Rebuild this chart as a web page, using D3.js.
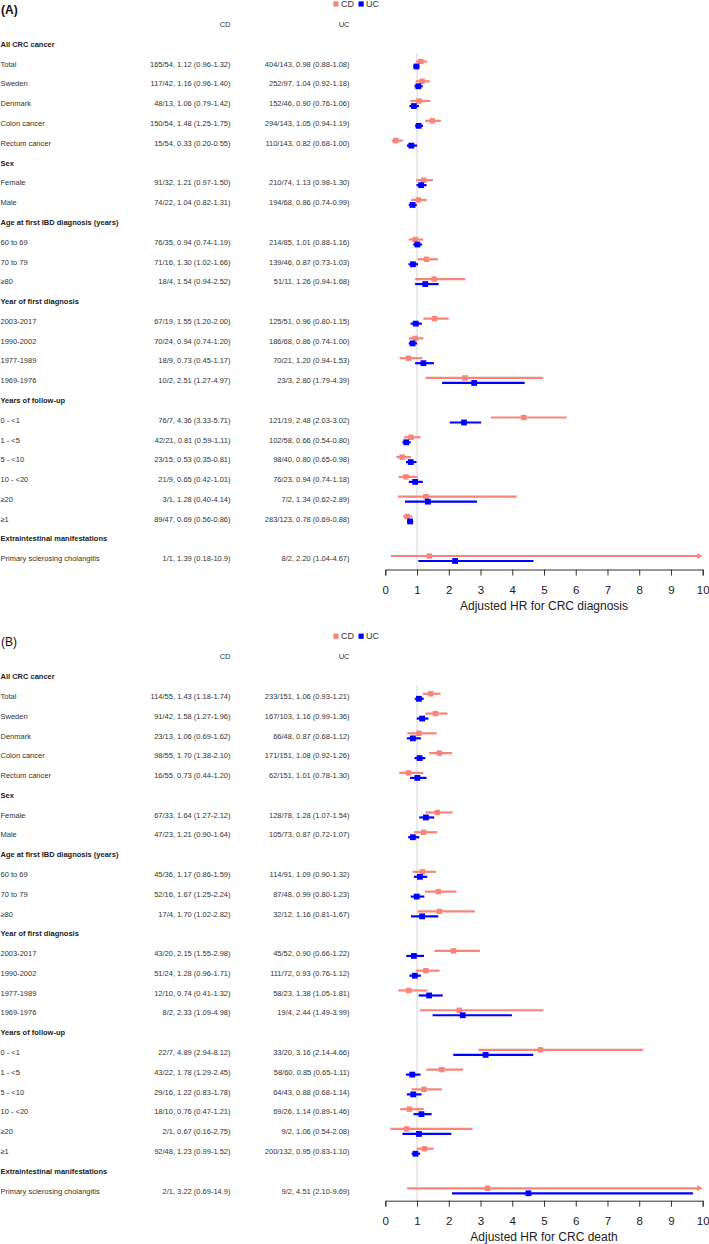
<!DOCTYPE html>
<html>
<head>
<meta charset="utf-8">
<script src="https://cdn.jsdelivr.net/npm/d3@7"></script>
<style>
  html, body { margin: 0; padding: 0; background: #fff; }
  svg { display: block; font-family: "Liberation Sans", Arial, sans-serif; }
</style>
</head>
<body>
<svg id="chart" width="709" height="1244"></svg>
<script>
// ---------------- DATA ----------------
const rowLabels = ["All CRC cancer","Total","Sweden","Denmark","Colon cancer","Rectum cancer",
  "Sex","Female","Male","Age at first IBD diagnosis (years)","60 to 69","70 to 79","≥80",
  "Year of first diagnosis","2003-2017","1990-2002","1977-1989","1969-1976",
  "Years of follow-up","0 - <1","1 - <5","5 - <10","10 - <20","≥20","≥1",
  "Extraintestinal manifestations","Primary sclerosing cholangitis"];
const headerRows = [0, 6, 9, 13, 18, 25];
const seriesNames = ["CD", "UC"];
const tickValues = [0,1,2,3,4,5,6,7,8,9,10];
const axisTitles = ["Adjusted HR for CRC diagnosis", "Adjusted HR for CRC death"];
const panelLabels = ["(A)", "(B)"];

// Panel A: CRC diagnosis
const cdEventsA = ["165/54","117/42","48/13","150/54","15/54","91/32","74/22","76/35","71/16","18/4","67/19","70/24","18/9","10/2","76/7","42/21","23/15","21/9","3/1","89/47","1/1"];
const cdHrA = [1.12,1.16,1.06,1.48,0.33,1.21,1.04,0.94,1.30,1.54,1.55,0.94,0.73,2.51,4.36,0.81,0.53,0.65,1.28,0.69,1.39];
const cdLoA = [0.96,0.96,0.79,1.25,0.20,0.97,0.82,0.74,1.02,0.94,1.20,0.74,0.45,1.27,3.33,0.59,0.35,0.42,0.40,0.56,0.18];
const cdHiA = [1.32,1.40,1.42,1.75,0.55,1.50,1.31,1.19,1.66,2.52,2.00,1.20,1.17,4.97,5.71,1.11,0.81,1.01,4.14,0.86,10.9];
const ucEventsA = ["404/143","252/97","152/46","294/143","110/143","210/74","194/68","214/85","139/46","51/11","125/51","186/68","70/21","23/3","121/19","102/58","98/40","76/23","7/2","283/123","8/2"];
const ucHrA = [0.98,1.04,0.90,1.05,0.82,1.13,0.86,1.01,0.87,1.26,0.96,0.86,1.20,2.80,2.48,0.66,0.80,0.94,1.34,0.78,2.20];
const ucLoA = [0.88,0.92,0.76,0.94,0.68,0.98,0.74,0.88,0.73,0.94,0.80,0.74,0.94,1.79,2.03,0.54,0.65,0.74,0.62,0.69,1.04];
const ucHiA = [1.08,1.18,1.06,1.19,1.00,1.30,0.99,1.16,1.03,1.68,1.15,1.00,1.53,4.39,3.02,0.80,0.98,1.18,2.89,0.88,4.67];

// Panel B: CRC death
const cdEventsB = ["114/55","91/42","23/13","98/55","16/55","67/33","47/23","45/36","52/16","17/4","43/20","51/24","12/10","8/2","22/7","43/22","29/16","18/10","2/1","92/48","2/1"];
const cdHrB = [1.43,1.58,1.06,1.70,0.73,1.64,1.21,1.17,1.67,1.70,2.15,1.28,0.74,2.33,4.89,1.78,1.22,0.76,0.67,1.23,3.22];
const cdLoB = [1.18,1.27,0.69,1.38,0.44,1.27,0.90,0.86,1.25,1.02,1.55,0.96,0.41,1.09,2.94,1.29,0.83,0.47,0.16,0.99,0.69];
const cdHiB = [1.74,1.96,1.62,2.10,1.20,2.12,1.64,1.59,2.24,2.82,2.98,1.71,1.32,4.98,8.12,2.45,1.78,1.21,2.75,1.52,14.9];
const ucEventsB = ["233/151","167/103","66/48","171/151","62/151","128/78","105/73","114/91","87/48","32/12","45/52","111/72","58/23","19/4","33/20","58/60","64/43","69/26","9/2","200/132","9/2"];
const ucHrB = [1.06,1.16,0.87,1.08,1.01,1.28,0.87,1.09,0.99,1.16,0.90,0.93,1.38,2.44,3.16,0.85,0.88,1.14,1.06,0.95,4.51];
const ucLoB = [0.93,0.99,0.68,0.92,0.78,1.07,0.72,0.90,0.80,0.81,0.66,0.76,1.05,1.49,2.14,0.65,0.68,0.89,0.54,0.83,2.10];
const ucHiB = [1.21,1.36,1.12,1.26,1.30,1.54,1.07,1.32,1.23,1.67,1.22,1.12,1.81,3.99,4.66,1.11,1.14,1.46,2.08,1.10,9.69];

// ---------------- DRAW ----------------
const colors = { CD: "#F8847A", UC: "#0000FF" };
const textColor = "#333";
const svg = d3.select("#chart");

const x = d3.scaleLinear().domain([0, 10]).range([385.3, 702.7]);
const fmt = v => v >= 10 ? v.toFixed(1) : v.toFixed(2);

function buildRows(cdE, cdH, cdL, cdU, ucE, ucH, ucL, ucU) {
  const rows = [];
  let k = 0;
  rowLabels.forEach((lab, i) => {
    if (headerRows.includes(i)) {
      rows.push({ i, label: lab, header: true });
    } else {
      rows.push({ i, label: lab, header: false,
        CD: { ev: cdE[k], hr: cdH[k], lo: cdL[k], hi: cdU[k] },
        UC: { ev: ucE[k], hr: ucH[k], lo: ucL[k], hi: ucU[k] } });
      k++;
    }
  });
  return rows;
}

const panels = [
  { top: 0, firstRow: 44.3, axisY: 569.5, label: panelLabels[0], bold: true, title: axisTitles[0],
    rows: buildRows(cdEventsA, cdHrA, cdLoA, cdHiA, ucEventsA, ucHrA, ucLoA, ucHiA) },
  { top: 632.2, firstRow: 676.6, axisY: 1200.7, label: panelLabels[1], bold: false, title: axisTitles[1],
    rows: buildRows(cdEventsB, cdHrB, cdLoB, cdHiB, ucEventsB, ucHrB, ucLoB, ucHiB) }
];

const pitch = 19.78;

panels.forEach(p => {
  const g = svg.append("g");
  const rowY = i => p.firstRow + i * pitch;

  // panel label
  g.append("text").attr("x", 1).attr("y", p.top + 10).attr("dy", "0.35em")
    .attr("font-size", 12).attr("font-weight", p.bold ? "bold" : "normal")
    .attr("fill", "#111").text(p.label);

  // legend
  const lg = g.append("g").attr("transform", `translate(0,${p.top + 4})`);
  [{ n: seriesNames[0], sx: 333.3, tx: 341 }, { n: seriesNames[1], sx: 358.5, tx: 366 }].forEach(d => {
    lg.append("rect").attr("x", d.sx).attr("y", -2.6).attr("width", 5.2).attr("height", 5.2)
      .attr("fill", colors[d.n]);
    lg.append("text").attr("x", d.tx).attr("y", 0).attr("dy", "0.35em").attr("font-size", 9)
      .attr("fill", textColor).text(d.n);
  });

  // column headers
  g.append("text").attr("x", 230.5).attr("y", p.top + 24.3).attr("dy", "0.35em")
    .attr("text-anchor", "end").attr("font-size", 7.5).attr("fill", textColor).text(seriesNames[0]);
  g.append("text").attr("x", 349.5).attr("y", p.top + 24.3).attr("dy", "0.35em")
    .attr("text-anchor", "end").attr("font-size", 7.5).attr("fill", textColor).text(seriesNames[1]);

  // row labels
  g.selectAll("text.lab").data(p.rows).join("text").attr("class", "lab")
    .attr("x", 0.5).attr("y", d => rowY(d.i)).attr("dy", "0.35em")
    .attr("font-size", 7.5).attr("font-weight", d => d.header ? "bold" : "normal")
    .attr("fill", d => d.header ? "#222" : textColor).text(d => d.label);

  const dataRows = p.rows.filter(d => !d.header);
  const txt = s => `${s.ev}, ${s.hr.toFixed(2)} (${fmt(s.lo)}-${fmt(s.hi)})`;
  g.selectAll("text.cd").data(dataRows).join("text").attr("class", "cd")
    .attr("x", 230.5).attr("y", d => rowY(d.i)).attr("dy", "0.35em").attr("text-anchor", "end")
    .attr("font-size", 7.5).attr("fill", textColor).text(d => txt(d.CD));
  g.selectAll("text.uc").data(dataRows).join("text").attr("class", "uc")
    .attr("x", 349.5).attr("y", d => rowY(d.i)).attr("dy", "0.35em").attr("text-anchor", "end")
    .attr("font-size", 7.5).attr("fill", textColor).text(d => txt(d.UC));

  // reference line at HR = 1
  g.append("line").attr("x1", x(1)).attr("x2", x(1))
    .attr("y1", p.top + 53).attr("y2", p.axisY)
    .attr("stroke", "#d4d4d4").attr("stroke-width", 1);

  // CIs and points
  [{ n: "CD", off: -2.6 }, { n: "UC", off: 2.4 }].forEach(s => {
    const sg = g.append("g");
    dataRows.forEach(d => {
      const v = d[s.n];
      const y = rowY(d.i) + s.off;
      const hiC = Math.min(v.hi, 10);
      sg.append("line").attr("x1", x(v.lo)).attr("x2", x(hiC) - (v.hi > 10 ? 4 : 0))
        .attr("y1", y).attr("y2", y).attr("stroke", colors[s.n]).attr("stroke-width", 2.2);
      if (v.hi > 10) {
        const xe = x(10);
        sg.append("path").attr("d", `M${xe},${y} L${xe - 5.5},${y - 3} L${xe - 5.5},${y + 3} Z`)
          .attr("fill", colors[s.n]);
      }
      const sz = s.n === "UC" ? 5.8 : 5.4;
      sg.append("rect").attr("x", x(v.hr) - sz / 2).attr("y", y - sz / 2)
        .attr("width", sz).attr("height", sz).attr("fill", colors[s.n]);
    });
  });

  // axis
  const ax = g.append("g").attr("transform", `translate(0,${p.axisY})`)
    .call(d3.axisBottom(x).tickValues(tickValues).tickFormat(d3.format("d"))
      .tickSize(6).tickSizeOuter(6).tickPadding(10));
  ax.select(".domain").attr("stroke", "#333");
  ax.selectAll(".tick line").attr("stroke", "#333");
  ax.selectAll(".tick text").attr("font-size", 11.5).attr("fill", "#222")
    .attr("font-family", "'Liberation Sans', Arial, sans-serif");

  g.append("text").attr("x", (x(0) + x(10)) / 2).attr("y", p.axisY + 36).attr("dy", "0.35em")
    .attr("text-anchor", "middle").attr("font-size", 12).attr("fill", "#222").text(p.title);
});
</script>
</body>
</html>
